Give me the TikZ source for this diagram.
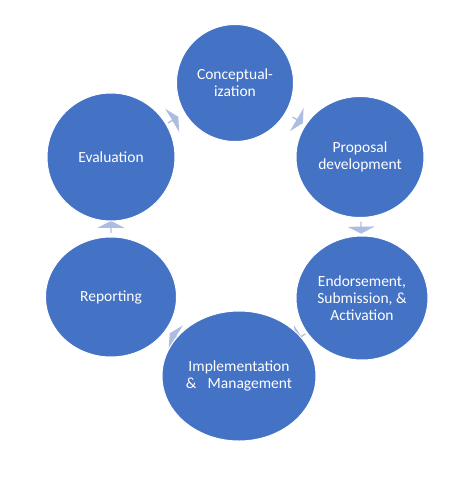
\documentclass[tikz,border=0pt]{standalone}
\usepackage{fontspec}
\setmainfont{Carlito}
\usetikzlibrary{shapes.geometric,shapes.arrows,calc}
\pgfdeclarelayer{background}
\pgfsetlayers{background,main}
\definecolor{stepblue}{HTML}{4472C4}
\definecolor{arrowblue}{HTML}{ADBDE2}
\tikzset{
  stage/.style={ellipse, fill=stepblue, draw=white, line width=1pt, inner sep=0pt,
    text=white, align=center, font=\fontsize{15.5}{17}\selectfont},
  cyclearrow/.style={single arrow, fill=arrowblue, draw=none, inner sep=0pt,
    minimum height=12pt, minimum width=27pt, single arrow head extend=4pt,
    single arrow tip angle=125}
}
\begin{document}
\begin{tikzpicture}[x=1pt,y=-1pt]
\useasboundingbox (0,0) rectangle (466,480);
\begin{pgfonlayer}{background}
\fill[white] (0,0) rectangle (466,480);
\end{pgfonlayer}
\node[stage, minimum width=117pt, minimum height=117pt] (con) at (235,83) {Conceptual-\\ization};
\node[stage, minimum width=128pt, minimum height=121pt] (pro) at (360,157) {Proposal\\development};
\node[stage, minimum width=132pt, minimum height=124pt] (end) at (362,298) {Endorsement,\\Submission, \&\\Activation};
\node[stage, minimum width=154pt, minimum height=130pt] (imp) at (239,376) {Implementation\\\&\hspace{0.5em} Management};
\node[stage, minimum width=131pt, minimum height=120pt] (rep) at (111,297) {Reporting};
\node[stage, minimum width=128pt, minimum height=128pt] (eva) at (111,157) {Evaluation};
\begin{pgfonlayer}{background}
\foreach \a/\b in {eva/con, con/pro, pro/end, end/imp, imp/rep, rep/eva}{
  \path let \p1=($(\b)-(\a)$), \n1={atan2(\y1,\x1)} in
    node[cyclearrow, rotate=\n1] (arr-\a) at ($(\a)!0.5!(\b)$) {};
}
\end{pgfonlayer}
\end{tikzpicture}
\end{document}
